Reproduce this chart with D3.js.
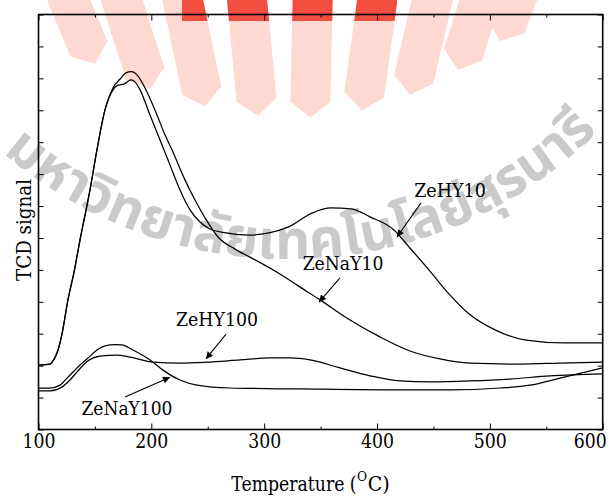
<!DOCTYPE html>
<html><head><meta charset="utf-8">
<script src="https://cdn.jsdelivr.net/npm/d3@7"></script>
<style>
body{margin:0;background:#fff}
svg{display:block}
</style>
</head><body>
<svg id="chart" width="611" height="498"></svg>
<script>
// ---------- data ----------
const xMajorTicks = [100, 200, 300, 400, 500, 600];
const xMinorTicks = [150, 250, 350, 450, 550];
const yTicks = [0,1,2,3,4,5,6,7,8,9,10,11,12,13];

const zeHY10_T = [100,110.2,112,117.3,120.8,126.1,131.5,136.8,145.6,151.8,158.9,166,170.5,175.8,182,185.5,190,198.8,207.7,216.5,225.4,234.3,243.1,252,266.2,286.6,304.3,321.1,342.4,359.2,377,393.8,415,428.3,446,462.9,480.6,504.6,532,566.6,600];
const zeHY10_V = [2.02,2.05,2.11,2.49,2.99,4.06,4.93,5.94,7.5,8.76,10.01,10.64,10.79,10.82,10.95,10.89,10.64,9.85,9.07,8.29,7.5,6.88,6.5,6.28,6.16,6.09,6.16,6.34,6.78,6.94,6.91,6.66,6.25,5.72,5.0,4.28,3.65,3.12,2.8,2.71,2.71];

const zeNaY10_T = [100,110.2,112,117.3,120.8,126.1,131.5,136.8,145.6,151.8,158.9,166,173.1,177.5,182,185.5,188.2,194.4,203.2,212.1,218.3,229.8,238.7,247.6,259.1,274.1,287.4,314,331.8,349.5,376.1,402.6,429.2,455.8,482.4,526.7,562.2,600];
const zeNaY10_V = [2.02,2.05,2.11,2.49,2.99,4.06,4.93,5.94,7.5,8.76,10.01,10.7,11.01,11.17,11.21,11.17,11.07,10.7,10.01,9.23,8.76,7.82,7.19,6.63,6.03,5.65,5.4,4.87,4.46,4.06,3.43,2.9,2.46,2.21,2.08,2.05,2.08,2.11];

const zeHY100_T = [100,110.2,120.8,127.9,134.1,143.9,154.5,169.6,181.1,201.5,225.4,249.3,278.6,305.2,322.9,340.6,367.2,393.8,420.5,447.1,482.4,517.8,553.3,600];
const zeHY100_V = [1.21,1.21,1.33,1.55,1.8,2.15,2.3,2.33,2.27,2.11,2.08,2.11,2.18,2.24,2.24,2.18,1.93,1.68,1.52,1.49,1.52,1.58,1.68,1.74];

const zeNaY100_T = [100,110.2,119.1,125.3,130.6,136.8,143.9,151.8,158.9,167.8,174,183.7,198.8,210.3,225.4,240.5,269.7,331.8,420.5,464.7,509,535.6,562.2,600];
const zeNaY100_V = [1.3,1.3,1.39,1.61,1.8,2.02,2.24,2.49,2.62,2.66,2.65,2.49,2.18,1.86,1.55,1.39,1.3,1.27,1.24,1.24,1.3,1.39,1.61,1.93];

const labelNames = ["ZeHY10", "ZeNaY10", "ZeHY100", "ZeNaY100"];
const labelT = [464.7, 369.9, 258.2, 178.4];
const labelV = [7.28, 5.00, 3.24, 0.45];
const arrowFromT = [439.0, 367.2, 266.2, 176.7];
const arrowFromV = [7.10, 4.75, 2.99, 1.02];
const arrowToT = [417.7, 348.6, 248.4, 216.5];
const arrowToV = [6.03, 3.99, 2.21, 1.64];

const xTitle = "Temperature (";
const xTitleSup = "O";
const xTitleEnd = "C)";
const yTitle = "TCD signal";
const watermarkText = "มหาวิทยาลัยเทคโนโลยีสุรนารี";

// ---------- fonts: serif face squeezed to Times-like advance widths ----------
const SERIF = "'DejaVu Serif', serif";
const timesAdv = {" ":250,"(":333,")":333,"0":500,"1":500,"2":500,"3":500,"4":500,"5":500,"6":500,"7":500,"8":500,"9":500,
  "C":667,"D":722,"H":722,"N":722,"O":722,"T":611,"Y":722,"Z":611,
  "a":444,"e":444,"g":500,"i":278,"l":278,"m":778,"n":500,"p":500,"r":333,"s":389,"t":278,"u":500};
const timesWidth = (s, size) => Array.from(s).reduce((a, c) => a + (timesAdv[c] || 500), 0) / 1000 * size;
function timesLike(sel, size) {
  sel.each(function() {
    const el = d3.select(this);
    el.attr("font-family", SERIF).attr("font-size", size * 0.92)
      .attr("textLength", timesWidth(el.text(), size)).attr("lengthAdjust", "spacingAndGlyphs");
  });
}

// ---------- layout ----------
const W = 611, H = 498;
const margin = {left: 38.5, right: 8.3, top: 14.5, bottom: 68.5};
const svg = d3.select("#chart");
const x = d3.scaleLinear().domain([100, 600]).range([margin.left, W - margin.right]);
const y = d3.scaleLinear().domain([0, 13]).range([H - margin.bottom, margin.top]);
const defs = svg.append("defs");

// ---------- watermark (decorative) ----------
const wm = svg.append("g").attr("class", "watermark");
const rayCenters = [95, 150, 205, 258, 310, 362, 410, 458, 500];
const focus = [300, 560];
function rayPoly(bx) {
  const t = (bx - 300) / 210;
  const by = 118 - t * t * (bx < 300 ? 57 : 85);
  let dx = bx - focus[0], dy = by - focus[1];
  const L = Math.hypot(dx, dy); dx /= L; dy /= L;
  const px = -dy, py = dx;
  const hw = 20, notch = 16, len = 260;
  return [[bx, by],
    [bx + px * hw + dx * notch, by + py * hw + dy * notch],
    [bx + px * hw + dx * len, by + py * hw + dy * len],
    [bx - px * hw + dx * len, by - py * hw + dy * len],
    [bx - px * hw + dx * notch, by - py * hw + dy * notch]];
}
const rayD = d => "M" + rayPoly(d).map(p => p.join(",")).join("L") + "Z";
wm.selectAll("path.ray").data(rayCenters).join("path")
  .attr("class", "ray").attr("d", rayD).attr("fill", "#fdd9d2");
defs.append("clipPath").attr("id", "redclip").append("rect")
  .attr("x", 182).attr("y", 0).attr("width", 215).attr("height", 21);
wm.append("g").attr("clip-path", "url(#redclip)")
  .selectAll("path").data(rayCenters).join("path")
  .attr("d", rayD).attr("fill", "#f24e3f");
const arcC = [289, -179], arcR = 438;
const a0 = 140 * Math.PI / 180, a1 = 35 * Math.PI / 180;
const arcPath = d3.path();
arcPath.arc(arcC[0], arcC[1], arcR, a0, a1, true);
defs.append("path").attr("id", "wmArc").attr("d", arcPath.toString());
const startA = Math.acos((3 - arcC[0]) / arcR);
const endA = Math.acos((598 - arcC[0]) / arcR);
const wantLen = (startA - endA) * arcR;
const wmText = wm.append("text")
  .attr("font-family", "'Noto Sans Thai','Noto Sans','DejaVu Sans',sans-serif")
  .attr("font-size", 60).attr("font-weight", "bold").attr("fill", "#cacaca");
wmText.append("textPath").attr("href", "#wmArc")
  .attr("startOffset", (a0 - startA) * arcR).text(watermarkText);
const measured = wmText.node().getComputedTextLength();
if (measured > 0) wmText.attr("font-size", 60 * wantLen / measured);

// ---------- axes ----------
const g = svg.append("g");
function styleAxis(sel) {
  sel.select(".domain").remove();
  sel.selectAll(".tick line").attr("stroke", "#000").attr("stroke-width", 1);
}
const bottomAxis = g.append("g").attr("transform", `translate(0,${y(0)})`)
  .call(d3.axisBottom(x).tickValues(xMajorTicks).tickSize(-6).tickPadding(4).tickFormat(d3.format("d")))
  .call(styleAxis);
bottomAxis.selectAll("text").attr("fill", "#000").call(timesLike, 22);
bottomAxis.selectAll("text").filter(d => d === 600).attr("dx", -13);
g.append("g").attr("transform", `translate(0,${y(0)})`)
  .call(d3.axisBottom(x).tickValues(xMinorTicks).tickSize(-3).tickFormat(""))
  .call(styleAxis);
g.append("g").attr("transform", `translate(0,${y(13)})`)
  .call(d3.axisTop(x).tickValues(xMajorTicks).tickSize(-6).tickFormat(""))
  .call(styleAxis);
g.append("g").attr("transform", `translate(0,${y(13)})`)
  .call(d3.axisTop(x).tickValues(xMinorTicks).tickSize(-3).tickFormat(""))
  .call(styleAxis);
g.append("g").attr("transform", `translate(${x(100)},0)`)
  .call(d3.axisLeft(y).tickValues(yTicks).tickSize(-5).tickFormat(""))
  .call(styleAxis);
g.append("g").attr("transform", `translate(${x(600)},0)`)
  .call(d3.axisRight(y).tickValues(yTicks).tickSize(-5).tickFormat(""))
  .call(styleAxis);
g.append("rect").attr("x", x(100)).attr("y", y(13))
  .attr("width", x(600) - x(100)).attr("height", y(0) - y(13))
  .attr("fill", "none").attr("stroke", "#000").attr("stroke-width", 1.6);

// axis titles
const w1 = timesWidth(xTitle, 22), w2 = timesWidth(xTitleSup, 14), w3 = timesWidth(xTitleEnd, 22);
const tx0 = 310 - (w1 + w2 + w3) / 2;
const xt = svg.append("text").attr("y", 491).attr("fill", "#000");
xt.append("tspan").attr("x", tx0).text(xTitle).call(timesLike, 22);
xt.append("tspan").attr("x", tx0 + w1 + 0.5).attr("dy", -10).text(xTitleSup).call(timesLike, 14);
xt.append("tspan").attr("x", tx0 + w1 + w2 + 1).attr("dy", 10).text(xTitleEnd).call(timesLike, 22);
svg.append("text")
  .attr("transform", `translate(31,${(y(0) + y(13)) / 2 + 8}) rotate(-90)`)
  .attr("text-anchor", "middle").attr("fill", "#000")
  .text(yTitle).call(timesLike, 22);

// ---------- curves ----------
const series = [
  {name: "ZeHY10", T: zeHY10_T, V: zeHY10_V},
  {name: "ZeNaY10", T: zeNaY10_T, V: zeNaY10_V},
  {name: "ZeHY100", T: zeHY100_T, V: zeHY100_V},
  {name: "ZeNaY100", T: zeNaY100_T, V: zeNaY100_V}
];
const line = d3.line().x(d => x(d[0])).y(d => y(d[1])).curve(d3.curveMonotoneX);
g.selectAll("path.curve").data(series).join("path")
  .attr("class", "curve")
  .attr("d", s => line(s.T.map((t, i) => [t, s.V[i]])))
  .attr("fill", "none").attr("stroke", "#000").attr("stroke-width", 1.25);

// ---------- annotations ----------
defs.append("marker").attr("id", "ah").attr("viewBox", "0 0 10 10")
  .attr("refX", 10).attr("refY", 5).attr("markerWidth", 11).attr("markerHeight", 7)
  .attr("markerUnits", "userSpaceOnUse").attr("orient", "auto")
  .append("path").attr("d", "M0,0L10,5L0,10Z").attr("fill", "#000");
labelNames.forEach((name, i) => {
  g.append("text").attr("x", x(labelT[i])).attr("y", y(labelV[i]))
    .attr("text-anchor", "middle").attr("fill", "#000")
    .text(name).call(timesLike, 20.5);
  g.append("line")
    .attr("x1", x(arrowFromT[i])).attr("y1", y(arrowFromV[i]))
    .attr("x2", x(arrowToT[i])).attr("y2", y(arrowToV[i]))
    .attr("stroke", "#000").attr("stroke-width", 1.1).attr("marker-end", "url(#ah)");
});
</script>
</body></html>
